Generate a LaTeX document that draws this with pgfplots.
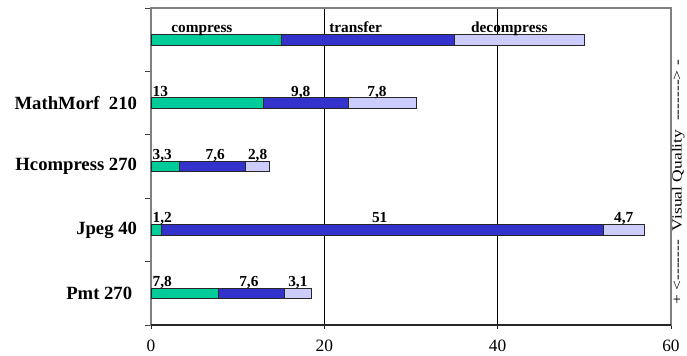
\documentclass[border=0pt]{standalone}
\usepackage{fontspec}
\setmainfont{Liberation Serif}
\usepackage{pgfplots}
\usepackage{pgfplotstable}
\pgfplotsset{compat=1.18}

\definecolor{cgreen}{RGB}{0,204,153}
\definecolor{cblue}{RGB}{51,51,204}
\definecolor{clav}{RGB}{204,204,255}

% times per method: compress, transfer, decompress (row 4 is the legend bar)
\pgfplotstableread{
y c t d cl tl dl csh tsh dsh
0 7.8 7.6 3.1 {7,8} {7,6} {3,1} 0 -2 0
1 1.2 51 4.7 {1,2} {51} {4,7} 0 -2 0
2 3.3 7.6 2.8 {3,3} {7,6} {2,8} 0 2 0
3 13 9.8 7.8 {13} {9,8} {7,8} 0 -4 -4
4 15 20 15 compress transfer decompress 14 -9 -7.5
}\timing

\newcommand\dsh{-{}-{}-{}-{}-{}-{}-}

\begin{document}
\begin{tikzpicture}
\useasboundingbox (-113.25pt,-23.25pt) rectangle (402pt,243.75pt);
\begin{axis}[
  xbar stacked,
  bar width=7.9pt,
  scale only axis,
  width=390pt, height=237.75pt,
  xmin=0, xmax=60, ymin=-0.5, ymax=4.5,
  clip=false,
  xtick={0,20,40,60},
  ytick={0,1,2,3},
  yticklabels={Pmt 270\hspace*{3.6pt}, Jpeg 40, Hcompress 270, MathMorf\ \ 210},
  minor ytick={-0.5,0.5,...,4.5},
  tick align=outside,
  xtick pos=left, ytick pos=left,
  major tick length=3pt,
  minor tick length=4.5pt,
  major x tick style={black!85, line width=0.6pt},
  major y tick style={draw=none},
  minor y tick style={black!75, line width=0.6pt},
  axis line style={gray, line width=1.2pt},
  xmajorgrids,
  major x grid style={black, line width=0.6pt},
  /pgf/number format/assume math mode=true,
  xticklabel style={font=\fontsize{13}{15}\selectfont, yshift=-5pt},
  yticklabel style={font=\fontsize{14}{16}\selectfont\bfseries, xshift=-4pt},
  every axis plot/.append style={draw=black!85, line width=0.6pt},
  point meta=explicit symbolic,
  every node near coord/.append style={font=\fontsize{11.5}{13}\selectfont\bfseries,
    inner sep=1pt, yshift=5.2pt, text=black},
]
% labels sit at the middle of each segment; 390pt / 60 units = 6.5pt per unit
\addplot[fill=cgreen, nodes near coords,
  visualization depends on={\thisrow{c} \as \segv},
  visualization depends on={\thisrow{csh} \as \shv},
  every node near coord/.append style={anchor=base west,
    xshift={(\shv-3.25*\segv)*1pt}}]
  table[x=c, y=y, meta=cl] {\timing};
\addplot[fill=cblue, nodes near coords,
  visualization depends on={\thisrow{tsh} \as \shv},
  every node near coord/.append style={anchor=base, xshift={\shv*1pt}}]
  table[x=t, y=y, meta=tl] {\timing};
\addplot[fill=clav, nodes near coords,
  visualization depends on={\thisrow{dsh} \as \shv},
  every node near coord/.append style={anchor=base, xshift={\shv*1pt}}]
  table[x=d, y=y, meta=dl] {\timing};
\draw[black!85, line width=0.8pt] (rel axis cs:0,0) -- (rel axis cs:1,0);
\node[xshift=5.5pt, rotate=90, font=\fontsize{10.5}{12}\selectfont]
  at (rel axis cs:1,0.45) {\scalebox{1.25}[1]{+ <\dsh\ \ Visual Quality\ \ \dsh> -}};
\end{axis}
\end{tikzpicture}
\end{document}
